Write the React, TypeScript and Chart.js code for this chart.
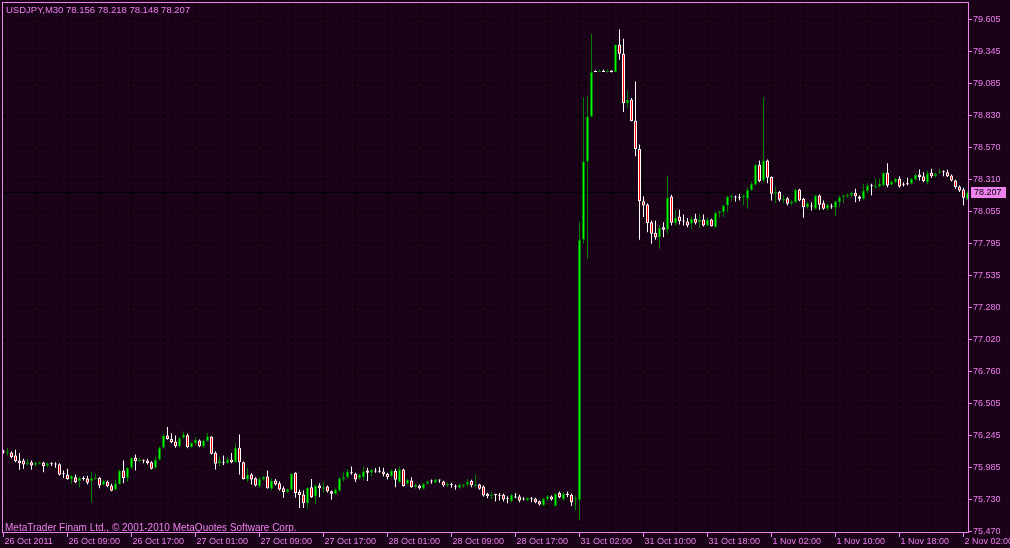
import React, { useEffect, useRef } from 'react';
import { Chart, registerables } from 'chart.js';

Chart.register(...registerables);

const SYMBOL = 'USDJPY,M30';
const COPYRIGHT = 'MetaTrader Finam Ltd., \u00A9 2001-2010 MetaQuotes Software Corp.';

const OPEN = [
  76.116, 76.103, 76.108, 76.084, 76.044, 76.044, 76.014, 76.030, 76.008, 76.017,
  76.027, 76.000, 76.017, 76.017, 76.014, 75.941, 75.930, 75.890, 75.909, 75.877,
  75.903, 75.898, 75.877, 75.893, 75.903, 75.847, 75.874, 75.842, 75.807, 75.852,
  75.963, 75.903, 75.984, 76.065, 76.038, 76.049, 76.044, 76.030, 75.984, 76.049,
  76.146, 76.245, 76.218, 76.197, 76.157, 76.227, 76.248, 76.151, 76.183, 76.205,
  76.157, 76.200, 76.237, 76.105, 76.022, 76.030, 76.022, 76.052, 76.030, 76.146,
  76.030, 75.890, 75.930, 75.901, 75.836, 75.890, 75.914, 75.815, 75.882, 75.860,
  75.820, 75.788, 75.807, 75.944, 75.788, 75.769, 75.699, 75.828, 75.753, 75.842,
  75.815, 75.833, 75.796, 75.772, 75.799, 75.890, 75.906, 75.944, 75.936, 75.901,
  75.909, 75.963, 75.944, 75.957, 75.957, 75.955, 75.936, 75.917, 75.960, 75.869,
  75.971, 75.855, 75.882, 75.828, 75.842, 75.815, 75.855, 75.879, 75.863, 75.887,
  75.874, 75.842, 75.850, 75.839, 75.823, 75.836, 75.847, 75.877, 75.836, 75.850,
  75.834, 75.774, 75.755, 75.769, 75.766, 75.766, 75.739, 75.715, 75.753, 75.753,
  75.734, 75.721, 75.737, 75.734, 75.715, 75.680, 75.729, 75.753, 75.675, 75.780,
  75.729, 75.772, 75.766, 75.726, 75.725, 77.826, 78.458, 78.822, 79.185, 79.180,
  79.185, 79.180, 79.193, 79.180, 79.403, 79.328, 78.929, 78.959, 78.789, 78.560,
  78.138, 78.111, 77.968, 77.882, 77.847, 77.928, 77.906, 78.176, 77.960, 78.014,
  77.982, 77.974, 77.955, 77.995, 77.968, 77.990, 77.941, 77.990, 77.928, 78.041,
  78.049, 78.103, 78.170, 78.173, 78.170, 78.170, 78.157, 78.229, 78.270, 78.431,
  78.305, 78.466, 78.332, 78.197, 78.211, 78.143, 78.162, 78.116, 78.130, 78.232,
  78.157, 78.089, 78.103, 78.076, 78.184, 78.122, 78.076, 78.100, 78.084, 78.130,
  78.170, 78.176, 78.184, 78.205, 78.176, 78.157, 78.219, 78.267, 78.251, 78.256,
  78.264, 78.367, 78.270, 78.291, 78.318, 78.278, 78.283, 78.278, 78.310, 78.353,
  78.340, 78.291, 78.367, 78.340, 78.367, 78.380, 78.372, 78.345, 78.305, 78.256,
  78.232, 78.156,
];

const HIGH = [
  76.130, 76.146, 76.116, 76.130, 76.103, 76.057, 76.057, 76.044, 76.033, 76.035,
  76.033, 76.030, 76.030, 76.030, 76.022, 75.963, 75.976, 75.928, 75.930, 75.914,
  75.917, 75.920, 75.949, 75.936, 75.909, 75.887, 75.882, 75.855, 75.887, 75.968,
  76.044, 75.990, 76.070, 76.092, 76.062, 76.052, 76.057, 76.038, 76.076, 76.157,
  76.253, 76.313, 76.264, 76.245, 76.232, 76.278, 76.259, 76.192, 76.232, 76.213,
  76.213, 76.267, 76.240, 76.119, 76.076, 76.084, 76.070, 76.103, 76.183, 76.253,
  76.035, 75.984, 75.941, 75.909, 75.909, 75.917, 75.963, 75.901, 75.895, 75.874,
  75.836, 75.820, 75.941, 75.949, 75.809, 75.801, 75.828, 75.895, 75.850, 75.860,
  75.869, 75.842, 75.801, 75.820, 75.909, 75.949, 75.971, 75.995, 75.944, 75.936,
  75.995, 75.984, 75.976, 75.982, 75.990, 75.984, 75.944, 75.971, 75.976, 75.995,
  75.976, 75.896, 75.909, 75.855, 75.850, 75.861, 75.882, 75.890, 75.896, 75.890,
  75.879, 75.863, 75.863, 75.850, 75.855, 75.855, 75.896, 75.887, 75.931, 75.855,
  75.842, 75.782, 75.788, 75.774, 75.780, 75.774, 75.755, 75.774, 75.780, 75.766,
  75.747, 75.747, 75.747, 75.742, 75.721, 75.742, 75.766, 75.761, 75.780, 75.793,
  75.788, 75.793, 75.774, 75.761, 77.974, 78.978, 78.983, 79.489, 79.193, 79.199,
  79.201, 79.201, 79.193, 79.403, 79.524, 79.449, 79.032, 78.972, 79.104, 78.596,
  78.176, 78.122, 77.982, 77.982, 77.941, 77.968, 78.345, 78.189, 78.063, 78.068,
  78.030, 78.001, 78.014, 78.036, 78.036, 78.030, 78.003, 77.995, 78.057, 78.063,
  78.111, 78.184, 78.192, 78.184, 78.197, 78.192, 78.251, 78.299, 78.439, 78.466,
  78.975, 78.474, 78.337, 78.256, 78.219, 78.184, 78.170, 78.143, 78.243, 78.238,
  78.165, 78.130, 78.130, 78.189, 78.192, 78.143, 78.116, 78.116, 78.143, 78.184,
  78.189, 78.197, 78.211, 78.238, 78.184, 78.278, 78.283, 78.278, 78.318, 78.318,
  78.372, 78.445, 78.305, 78.324, 78.340, 78.291, 78.326, 78.324, 78.359, 78.394,
  78.372, 78.386, 78.399, 78.367, 78.399, 78.386, 78.391, 78.353, 78.313, 78.264,
  78.246, 78.218,
];

const LOW = [
  76.097, 76.084, 76.062, 76.030, 75.968, 75.976, 76.003, 75.968, 75.995, 76.014,
  75.949, 75.990, 75.998, 75.984, 75.922, 75.903, 75.887, 75.855, 75.860, 75.828,
  75.882, 75.850, 75.707, 75.887, 75.820, 75.842, 75.828, 75.796, 75.801, 75.847,
  75.860, 75.869, 75.976, 75.963, 76.030, 76.022, 76.011, 75.971, 75.976, 76.044,
  76.138, 76.210, 76.183, 76.146, 76.151, 76.218, 76.143, 76.146, 76.173, 76.151,
  76.146, 76.192, 76.092, 75.971, 75.995, 76.008, 76.017, 76.022, 76.025, 75.930,
  75.890, 75.869, 75.850, 75.833, 75.823, 75.882, 75.815, 75.801, 75.842, 75.801,
  75.742, 75.780, 75.801, 75.742, 75.659, 75.659, 75.653, 75.742, 75.688, 75.747,
  75.780, 75.785, 75.726, 75.766, 75.793, 75.874, 75.896, 75.928, 75.869, 75.890,
  75.882, 75.877, 75.917, 75.944, 75.944, 75.914, 75.890, 75.909, 75.828, 75.861,
  75.834, 75.850, 75.823, 75.815, 75.809, 75.809, 75.847, 75.855, 75.858, 75.863,
  75.831, 75.828, 75.823, 75.807, 75.815, 75.823, 75.836, 75.828, 75.828, 75.807,
  75.753, 75.739, 75.726, 75.712, 75.721, 75.712, 75.699, 75.707, 75.739, 75.707,
  75.721, 75.715, 75.707, 75.699, 75.680, 75.675, 75.721, 75.721, 75.672, 75.739,
  75.721, 75.747, 75.675, 75.640, 75.559, 77.793, 77.672, 78.816, 79.180, 79.180,
  79.180, 79.174, 79.177, 79.180, 79.279, 78.857, 78.892, 78.784, 78.501, 77.826,
  78.009, 77.887, 77.793, 77.826, 77.753, 77.847, 77.874, 77.941, 77.941, 77.949,
  77.941, 77.928, 77.914, 77.949, 77.922, 77.933, 77.933, 77.933, 77.922, 78.003,
  78.009, 78.049, 78.135, 78.135, 78.143, 78.103, 78.076, 78.219, 78.264, 78.291,
  78.291, 78.283, 78.143, 78.122, 78.135, 78.122, 78.103, 78.103, 78.122, 78.138,
  78.003, 78.076, 78.062, 78.068, 78.068, 78.068, 78.062, 78.076, 78.017, 78.089,
  78.122, 78.165, 78.170, 78.130, 78.138, 78.149, 78.197, 78.184, 78.238, 78.246,
  78.256, 78.251, 78.264, 78.283, 78.246, 78.256, 78.264, 78.272, 78.305, 78.305,
  78.291, 78.272, 78.324, 78.326, 78.359, 78.340, 78.332, 78.297, 78.238, 78.211,
  78.103, 78.148,
];

const CLOSE = [
  76.110, 76.116, 76.070, 76.038, 76.022, 76.011, 76.030, 76.003, 76.025, 76.030,
  75.998, 76.022, 76.014, 76.011, 75.928, 75.936, 75.893, 75.920, 75.869, 75.903,
  75.895, 75.863, 75.901, 75.903, 75.842, 75.877, 75.836, 75.799, 75.860, 75.963,
  75.903, 75.984, 76.065, 76.038, 76.052, 76.041, 76.022, 75.976, 76.049, 76.146,
  76.245, 76.218, 76.192, 76.159, 76.224, 76.253, 76.151, 76.186, 76.210, 76.159,
  76.205, 76.240, 76.097, 76.017, 76.044, 76.022, 76.052, 76.030, 76.146, 76.030,
  75.895, 75.930, 75.890, 75.842, 75.895, 75.914, 75.820, 75.882, 75.850, 75.809,
  75.788, 75.812, 75.936, 75.780, 75.764, 75.699, 75.823, 75.747, 75.842, 75.820,
  75.828, 75.796, 75.774, 75.809, 75.901, 75.909, 75.955, 75.941, 75.890, 75.928,
  75.957, 75.944, 75.968, 75.955, 75.952, 75.933, 75.909, 75.963, 75.887, 75.971,
  75.836, 75.887, 75.828, 75.847, 75.820, 75.855, 75.874, 75.874, 75.890, 75.882,
  75.842, 75.858, 75.844, 75.831, 75.850, 75.850, 75.869, 75.844, 75.850, 75.815,
  75.761, 75.755, 75.769, 75.764, 75.758, 75.729, 75.731, 75.766, 75.745, 75.721,
  75.729, 75.742, 75.731, 75.707, 75.688, 75.734, 75.755, 75.729, 75.774, 75.747,
  75.774, 75.764, 75.707, 75.742, 77.826, 78.458, 78.822, 79.180, 79.180, 79.188,
  79.180, 79.193, 79.180, 79.403, 79.328, 78.929, 78.956, 78.784, 78.560, 78.138,
  78.103, 77.960, 77.874, 77.847, 77.922, 77.906, 78.165, 77.963, 78.003, 77.976,
  77.974, 77.941, 77.995, 77.963, 77.990, 77.941, 77.990, 77.936, 78.044, 78.057,
  78.103, 78.176, 78.181, 78.168, 78.162, 78.184, 78.229, 78.278, 78.431, 78.299,
  78.466, 78.326, 78.197, 78.211, 78.149, 78.157, 78.116, 78.135, 78.229, 78.143,
  78.089, 78.122, 78.095, 78.184, 78.108, 78.076, 78.111, 78.092, 78.138, 78.170,
  78.184, 78.192, 78.205, 78.178, 78.157, 78.224, 78.264, 78.259, 78.264, 78.278,
  78.367, 78.264, 78.297, 78.318, 78.256, 78.270, 78.275, 78.318, 78.351, 78.332,
  78.300, 78.364, 78.340, 78.359, 78.380, 78.372, 78.340, 78.305, 78.251, 78.224,
  78.165, 78.207,
];

// one time label every TIME_TICK_STEP bars, grid every half of that
const TIME_TICK_STEP = 16;
const TIME_LABELS = [
  '26 Oct 2011', '26 Oct 09:00', '26 Oct 17:00', '27 Oct 01:00', '27 Oct 09:00',
  '27 Oct 17:00', '28 Oct 01:00', '28 Oct 09:00', '28 Oct 17:00', '31 Oct 02:00',
  '31 Oct 10:00', '31 Oct 18:00', '1 Nov 02:00', '1 Nov 10:00', '1 Nov 18:00',
  '2 Nov 02:00',
];

const PRICE_TICKS = [
  75.470, 75.730, 75.985, 76.245, 76.505, 76.760, 77.020, 77.280, 77.535,
  77.795, 78.055, 78.310, 78.570, 78.830, 79.085, 79.345, 79.605,
];

const BG = '#1a0219';
const VIOLET = '#ee82ee';
const GRID = '#000000';
const BULL_EDGE = '#008000';
const BULL_FILL = '#00ff00';
const BEAR_EDGE = '#ffffff';
const BEAR_FILL = '#ff0000';
const FONT = '"Liberation Sans", Arial, sans-serif';

export default function App() {
  const ref = useRef<HTMLCanvasElement | null>(null);

  useEffect(() => {
    const canvas = ref.current;
    if (!canvas) return;
    const n = CLOSE.length;
    const idx = CLOSE.map((_, i) => i);
    const bull = (i: number) => CLOSE[i] > OPEN[i];

    const bodies = idx.map((i) => ({ x: i, y: [Math.min(OPEN[i], CLOSE[i]), Math.max(OPEN[i], CLOSE[i])] }));
    const wicks = idx.map((i) => ({ x: i, y: [LOW[i], HIGH[i]] }));

    const decor = {
      id: 'mtDecor',
      beforeDraw(chart: any) {
        const ctx = chart.ctx;
        ctx.save();
        ctx.fillStyle = BG;
        ctx.fillRect(0, 0, chart.width, chart.height);
        ctx.restore();
      },
      beforeDatasetsDraw(chart: any) {
        const { ctx, chartArea, scales } = chart;
        const y = Math.round(scales.y.getPixelForValue(CLOSE[n - 1]) - 0.5) + 0.5;
        ctx.save();
        ctx.strokeStyle = '#000000';
        ctx.lineWidth = 1;
        ctx.beginPath();
        ctx.moveTo(chartArea.left, y);
        ctx.lineTo(chartArea.right, y);
        ctx.stroke();
        ctx.restore();
      },
      afterDatasetsDraw(chart: any) {
        const { ctx, chartArea } = chart;
        const l = Math.floor(chartArea.left) + 0.5;
        const t = Math.floor(chartArea.top) + 0.5;
        const r = Math.round(chartArea.right) - 0.5;
        const b = Math.round(chartArea.bottom) - 0.5;
        ctx.save();
        ctx.strokeStyle = VIOLET;
        ctx.lineWidth = 1;
        ctx.strokeRect(l, t, r - l, b - t);
        ctx.restore();
      },
      afterDraw(chart: any) {
        const { ctx, chartArea, scales } = chart;
        ctx.save();
        ctx.textBaseline = 'middle';
        ctx.textAlign = 'left';
        ctx.fillStyle = VIOLET;
        const last = n - 1;
        const title = `${SYMBOL} ${OPEN[last].toFixed(3)} ${HIGH[last].toFixed(3)} ${LOW[last].toFixed(3)} ${CLOSE[last].toFixed(3)}`;
        ctx.font = '9.5px ' + FONT;
        ctx.fillText(title, chartArea.left + 4, chartArea.top + 8.5);
        ctx.font = '10px ' + FONT;
        ctx.fillText(COPYRIGHT, chartArea.left + 3, chartArea.bottom - 5);
        // current price label
        ctx.font = '9px ' + FONT;
        const y = Math.round(scales.y.getPixelForValue(CLOSE[last]));
        const x0 = Math.round(chartArea.right) + 2;
        ctx.fillStyle = VIOLET;
        ctx.fillRect(x0, y - 6, 35, 11);
        ctx.fillStyle = '#000000';
        ctx.fillText(CLOSE[last].toFixed(3), x0 + 3, y);
        ctx.restore();
      },
    };

    const chart = new Chart(canvas, {
      type: 'bar',
      data: {
        datasets: [
          {
            data: bodies as any,
            backgroundColor: idx.map((i) => (bull(i) ? BULL_FILL : BEAR_FILL)),
            borderColor: idx.map((i) => (bull(i) ? BULL_EDGE : BEAR_EDGE)),
            borderWidth: 1,
            borderSkipped: false,
            barThickness: 3,
            maxBarThickness: 3,
            minBarLength: 1,
            grouped: false,
            inflateAmount: 0,
          } as any,
          {
            data: wicks as any,
            backgroundColor: idx.map((i) => (bull(i) ? BULL_EDGE : BEAR_EDGE)),
            borderWidth: 0,
            barThickness: 1,
            maxBarThickness: 1,
            grouped: false,
            inflateAmount: 0,
          } as any,
        ],
      },
      options: {
        animation: false,
        responsive: false,
        events: [],
        layout: { padding: { left: 2, top: 2, right: 0, bottom: 0 } },
        plugins: { legend: { display: false }, tooltip: { enabled: false }, title: { display: false } },
        scales: {
          x: {
            type: 'linear',
            offset: false,
            min: -0.375,
            max: 241.375,
            bounds: 'data',
            afterBuildTicks: (scale: any) => {
              const t: any[] = [];
              for (let v = 0; v < n; v += TIME_TICK_STEP / 2) t.push({ value: v });
              scale.ticks = t;
            },
            afterFit: (scale: any) => {
              scale.height = 15;
              scale.paddingLeft = 0;
              scale.paddingRight = 0;
            },
            ticks: {
              autoSkip: false,
              maxRotation: 0,
              minRotation: 0,
              align: 'start',
              labelOffset: 1,
              padding: 0,
              color: VIOLET,
              font: { family: FONT, size: 9, lineHeight: 1 },
              callback: (v: any) => (Number(v) % TIME_TICK_STEP === 0 ? TIME_LABELS[Number(v) / TIME_TICK_STEP] : ''),
            },
            grid: {
              offset: false,
              color: GRID,
              lineWidth: 1,
              drawTicks: true,
              tickLength: 4,
              tickColor: (c: any) => (c.tick && c.tick.value % TIME_TICK_STEP === 0 ? VIOLET : 'rgba(0,0,0,0)'),
            },
            border: { display: false, dash: [4, 3] },
          } as any,
          y: {
            type: 'linear',
            position: 'right',
            min: 75.45788,
            max: 79.74634,
            bounds: 'data',
            afterBuildTicks: (scale: any) => {
              scale.ticks = PRICE_TICKS.map((v) => ({ value: v }));
            },
            afterFit: (scale: any) => {
              scale.width = 41;
              scale.paddingTop = 0;
              scale.paddingBottom = 0;
            },
            ticks: {
              autoSkip: false,
              padding: 1,
              color: VIOLET,
              font: { family: FONT, size: 9 },
              callback: (v: any) => Number(v).toFixed(3),
            },
            grid: {
              color: GRID,
              lineWidth: 1,
              drawTicks: true,
              tickLength: 3,
              tickColor: VIOLET,
            },
            border: { display: false, dash: [4, 3] },
          } as any,
        },
      } as any,
      plugins: [decor],
    });

    return () => chart.destroy();
  }, []);

  return (
    <div style={{ position: 'absolute', left: 0, top: 0, width: 1010, height: 548, background: BG }}>
      <canvas ref={ref} width={1010} height={548} style={{ display: 'block' }} />
    </div>
  );
}
